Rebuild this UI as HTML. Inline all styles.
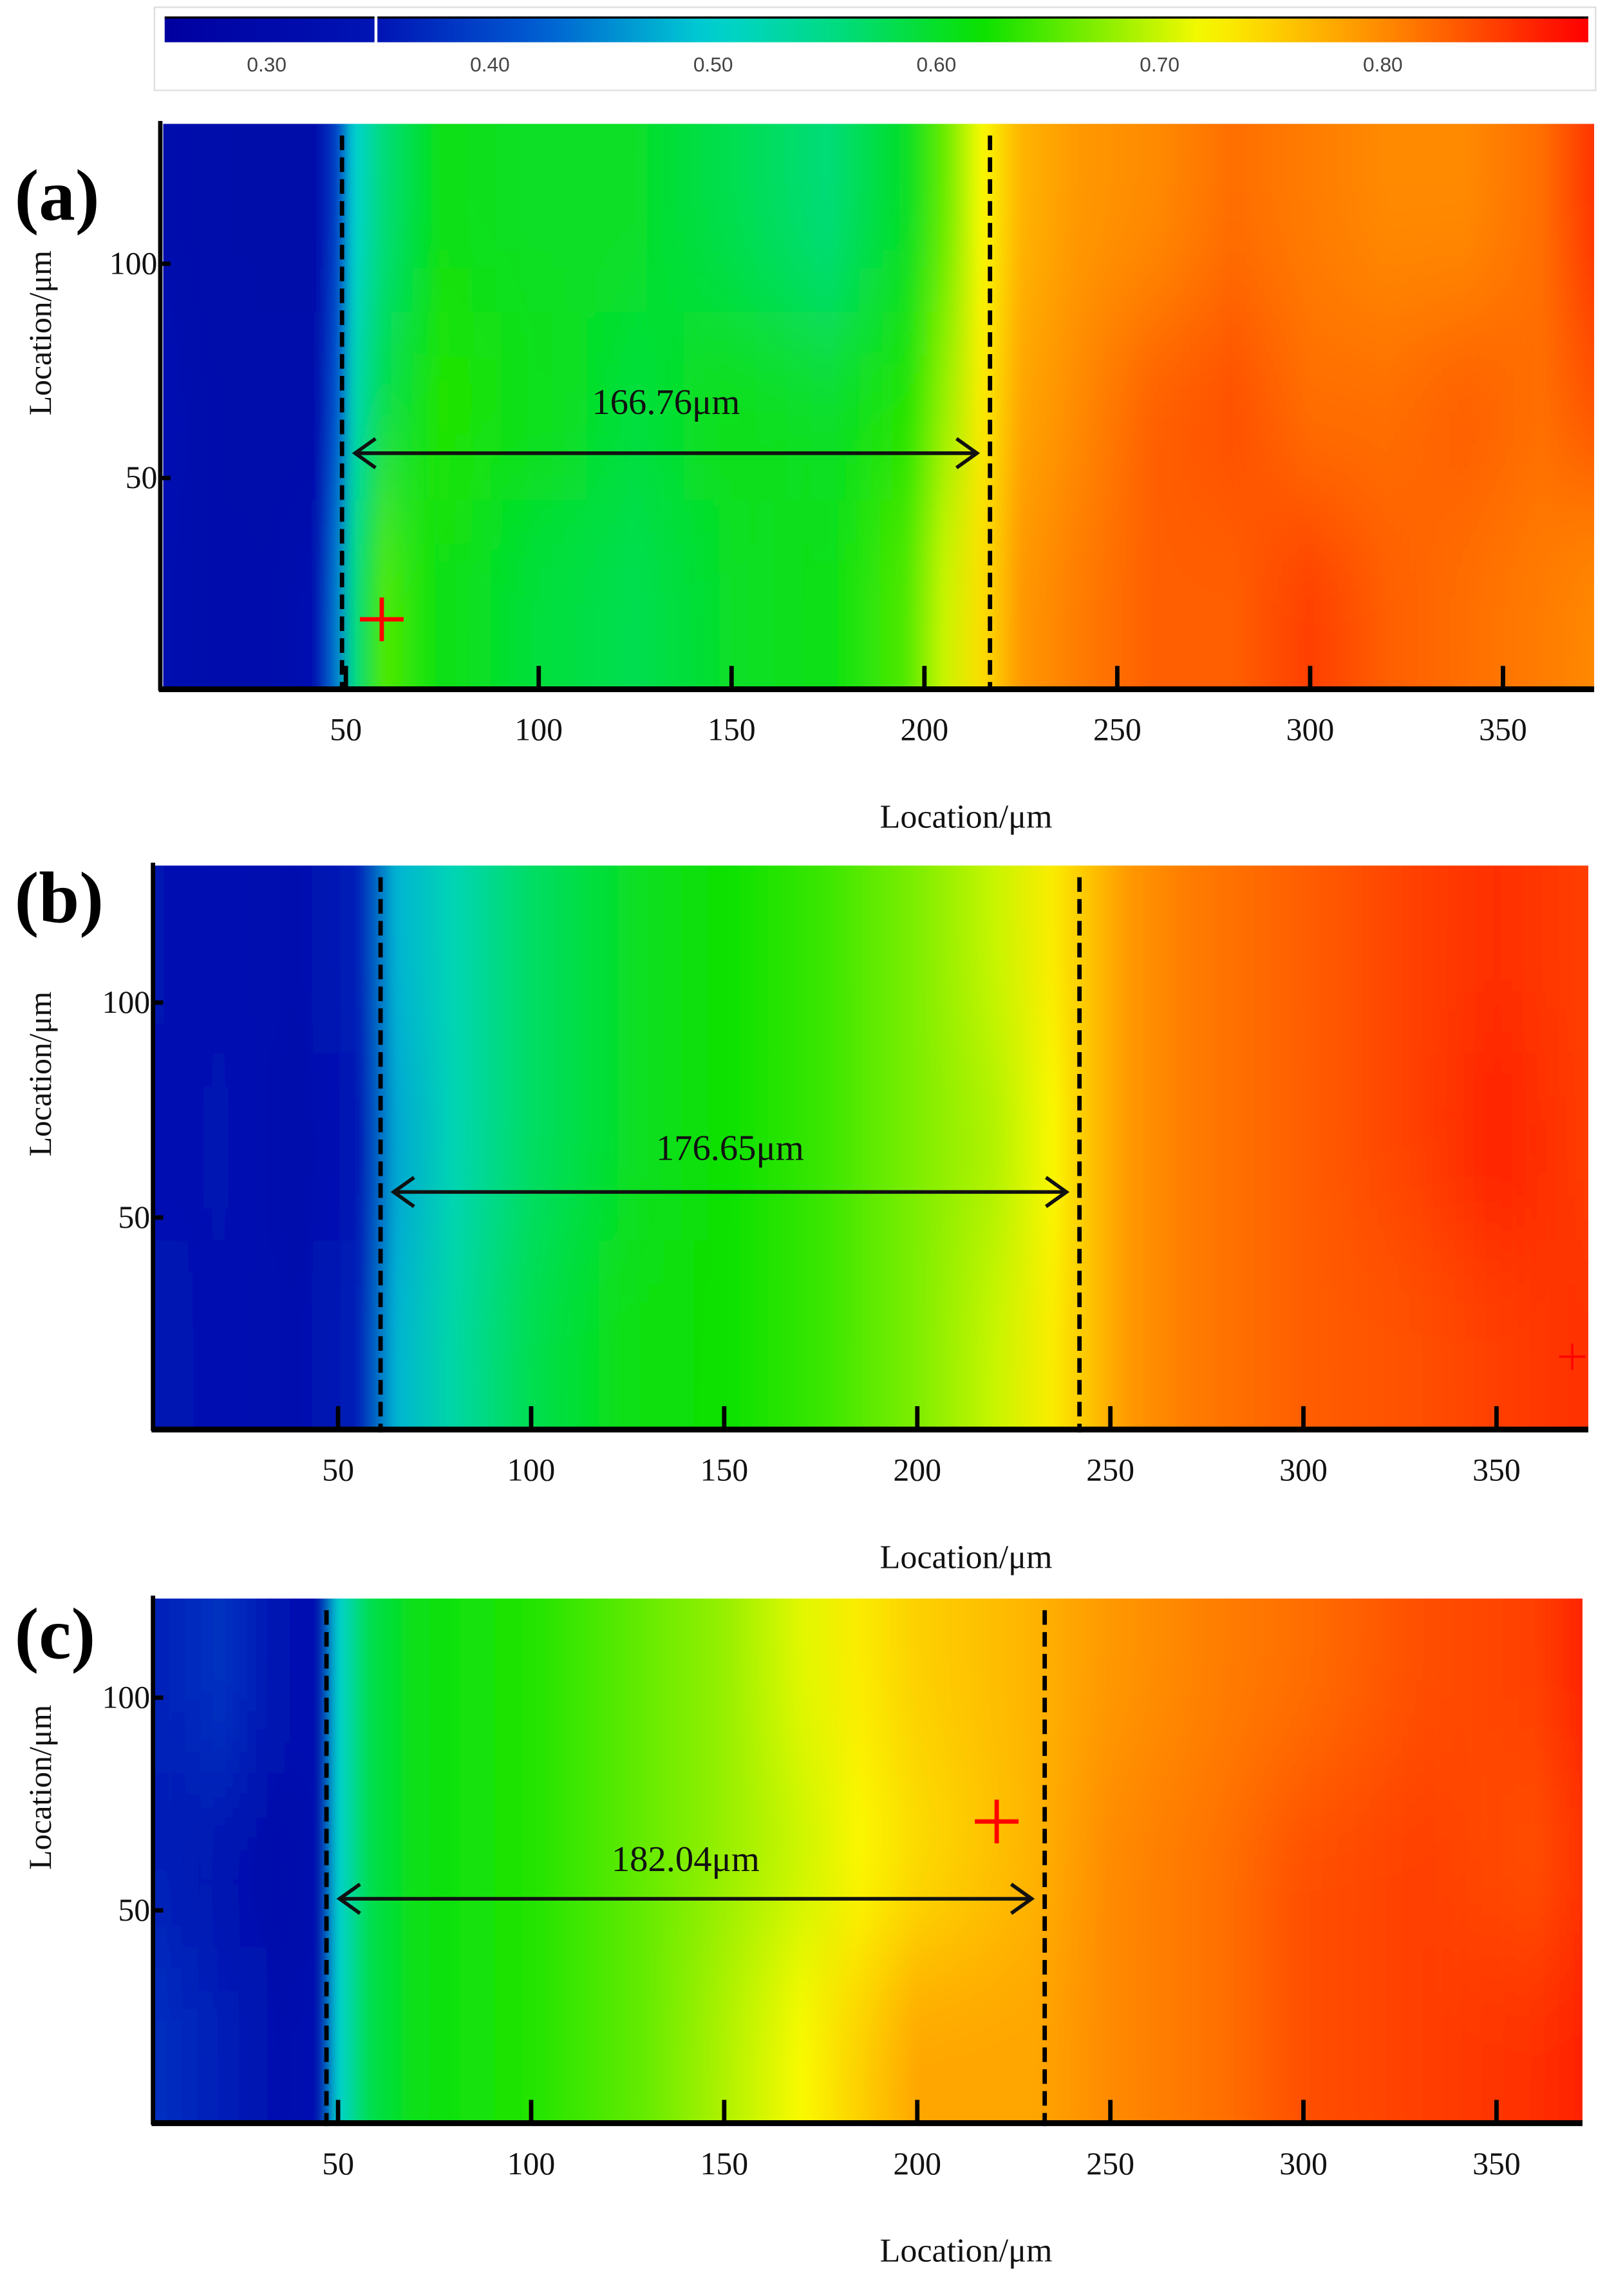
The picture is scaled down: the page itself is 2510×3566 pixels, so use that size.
<!DOCTYPE html>
<html><head><meta charset="utf-8"><style>
html,body{margin:0;padding:0;background:#fff}
svg{display:block}
.tick{font-family:"Liberation Serif",serif;font-size:22px;fill:#111}
.cb{font-family:"Liberation Sans",sans-serif;font-size:14px;fill:#444}
</style></head><body>
<svg id="fig" width="2510" height="3566" viewBox="0 0 1109 1575.6" preserveAspectRatio="none" xmlns="http://www.w3.org/2000/svg">
<defs>
<filter id="vblur" x="-5%" y="-50%" width="110%" height="200%"><feGaussianBlur stdDeviation="3 45"/></filter>
</defs>
</svg>
<script>
// ---- data ----
const cbTicks = [0.30,0.40,0.50,0.60,0.70,0.80];
const aXs  = [0,15,30,42,48,52,60,75,100,125,150,175,195,205,215,225,240,260,280,300,320,340,360,375];
const aTop = [0.32,0.30,0.29,0.29,0.40,0.50,0.56,0.61,0.60,0.60,0.58,0.56,0.60,0.66,0.72,0.77,0.79,0.80,0.82,0.81,0.80,0.80,0.82,0.86];
const aMid = [0.34,0.31,0.30,0.30,0.42,0.52,0.58,0.63,0.61,0.59,0.61,0.60,0.63,0.68,0.73,0.78,0.80,0.83,0.84,0.82,0.82,0.83,0.82,0.84];
const aBot = [0.33,0.31,0.31,0.33,0.45,0.55,0.65,0.61,0.59,0.58,0.60,0.61,0.65,0.70,0.74,0.79,0.81,0.83,0.83,0.85,0.83,0.82,0.81,0.80];
const bXs  = [0,20,40,55,65,80,100,125,150,175,200,220,235,245,255,270,300,330,350,375];
const bTop = [0.34,0.33,0.32,0.36,0.48,0.52,0.57,0.60,0.62,0.64,0.67,0.70,0.73,0.76,0.79,0.81,0.83,0.85,0.86,0.85];
const bMid = [0.33,0.34,0.31,0.35,0.47,0.52,0.57,0.60,0.62,0.64,0.67,0.69,0.72,0.76,0.79,0.81,0.83,0.85,0.87,0.85];
const bBot = [0.35,0.33,0.32,0.36,0.48,0.53,0.58,0.61,0.62,0.64,0.67,0.70,0.73,0.76,0.79,0.81,0.83,0.84,0.85,0.86];
const cXs  = [0,20,35,45,50,58,70,100,130,150,170,185,200,230,250,280,300,330,360,375];
const cTop = [0.36,0.38,0.34,0.33,0.50,0.58,0.61,0.63,0.66,0.68,0.71,0.73,0.75,0.77,0.79,0.81,0.82,0.84,0.85,0.87];
const cMid = [0.36,0.33,0.30,0.32,0.50,0.58,0.61,0.63,0.66,0.68,0.70,0.72,0.74,0.77,0.80,0.82,0.84,0.85,0.84,0.86];
const cBot = [0.38,0.36,0.32,0.33,0.50,0.58,0.61,0.63,0.66,0.69,0.72,0.75,0.78,0.78,0.80,0.82,0.84,0.85,0.86,0.87];
const xTicks = [50,100,150,200,250,300,350];
const yTicks = [50,100];
const widths = ["166.76μm","176.65μm","182.04μm"];
const bounds = [[49,217],[61,242],[47,233]];

// ---- colormap ----
const cmap=[[0.254,[0,0,160]],[0.35,[0,20,180]],[0.42,[0,90,210]],[0.50,[0,210,210]],[0.56,[0,220,120]],[0.62,[10,225,0]],[0.68,[150,240,0]],[0.72,[250,250,0]],[0.77,[255,180,0]],[0.82,[255,110,0]],[0.89,[255,0,0]]];
function col(v){
  if(v<=cmap[0][0])return `rgb(${cmap[0][1]})`;
  for(let i=1;i<cmap.length;i++){if(v<=cmap[i][0]){const a=cmap[i-1],b=cmap[i],t=(v-a[0])/(b[0]-a[0]);
    return 'rgb('+a[1].map((c,k)=>Math.round(c+(b[1][k]-c)*t)).join(',')+')';}}
  return `rgb(${cmap[cmap.length-1][1]})`;
}
const NS="http://www.w3.org/2000/svg";
const svg=document.getElementById('fig'), defs=svg.querySelector('defs');
function mk(tag,attrs,parent){const e=document.createElementNS(NS,tag);for(const k in attrs)e.setAttribute(k,attrs[k]);(parent||svg).appendChild(e);return e;}

// ---- colorbar ----
const cbG=mk('g',{});


mk('rect',{x:106,y:5,width:989,height:57,fill:'#fff',stroke:'#ddd','stroke-width':1},cbG);
const cbX=v=>183+(v-0.30)*1532;
const gcb=mk('linearGradient',{id:'gcb',x1:0,x2:1,y1:0,y2:0},defs);
for(let i=0;i<=40;i++){const v=0.254+(0.892-0.254)*i/40;mk('stop',{offset:(i/40),'stop-color':col(v)},gcb);}
mk('rect',{x:113,y:12,width:977,height:17,fill:'url(#gcb)'},cbG);
mk('line',{x1:113,x2:1090,y1:12,y2:12,stroke:'#000','stroke-width':1.5},cbG);
mk('line',{x1:258,x2:258,y1:11,y2:30,stroke:'#fff','stroke-width':2},cbG);
cbTicks.forEach(v=>{const t=mk('text',{x:cbX(v),y:49,'text-anchor':'middle',class:'cb'},cbG);t.textContent=v.toFixed(2);
  
  });

// ---- panels ----
const panels=[
 {name:'a',xs:aXs,rows:[aTop,aMid,aBot],L:112,R:1094,T:85,B:472,ax:110,x0:105,sx:2.647,y0:475,sy:2.94,lab:133,tit:560,arrY:311,labY:275,cross:[262,425,1]},
 {name:'b',xs:bXs,rows:[bTop,bMid,bBot],L:106,R:1090,T:594,B:980,ax:105,x0:99.5,sx:2.65,y0:983,sy:2.95,lab:615,tit:1068,arrY:818,labY:787,cross:[1079,931,0]},
 {name:'c',xs:cXs,rows:[cTop,cMid,cBot],L:106,R:1086,T:1097,B:1456,ax:105,x0:99.5,sx:2.65,y0:1457,sy:2.92,lab:1120,tit:1544,arrY:1303,labY:1275,cross:[684,1250,1]}
];
panels.forEach((p,pi)=>{
  const X=v=>p.x0+v*p.sx, Y=v=>p.y0-v*p.sy;
  const g=mk('g',{});
  
  
  const cid='clip'+p.name;
  const cp=mk('clipPath',{id:cid},defs);mk('rect',{x:p.L,y:p.T,width:p.R-p.L,height:p.B-p.T},cp);
  const hm=mk('g',{'clip-path':`url(#${cid})`},g);
  
  
  const inner=mk('g',{filter:'url(#vblur)'},hm);
  const H=p.B-p.T, xa=X(p.xs[0]), xb=X(p.xs[p.xs.length-1]);
  p.rows.forEach((row,ri)=>{
    const gid=`g${p.name}${ri}`;
    const lg=mk('linearGradient',{id:gid,gradientUnits:'userSpaceOnUse',x1:xa,x2:xb,y1:0,y2:0},defs);
    row.forEach((v,i)=>mk('stop',{offset:((X(p.xs[i])-xa)/(xb-xa)).toFixed(4),'stop-color':col(v)},lg));
    const y1=ri===0?p.T-120:p.T+H*ri/3, y2=ri===2?p.B+120:p.T+H*(ri+1)/3;
    const r=mk('rect',{x:p.L-60,y:y1,width:p.R-p.L+120,height:y2-y1,fill:`url(#${gid})`},inner);
    
    
  });
  // axes
  mk('line',{x1:p.ax,x2:p.ax,y1:p.T-2,y2:p.B+2,stroke:'#000','stroke-width':3},g);
  mk('line',{x1:p.ax-1,x2:p.R,y1:p.B+1,y2:p.B+1,stroke:'#000','stroke-width':4},g);
  xTicks.forEach(v=>{
    mk('line',{x1:X(v),x2:X(v),y1:p.B,y2:p.B-15,stroke:'#000','stroke-width':3},g);
    const t=mk('text',{x:X(v),y:p.B+36,'text-anchor':'middle',class:'tick'},g);t.textContent=v;
    
    
  });
  yTicks.forEach(v=>{
    mk('line',{x1:p.ax,x2:p.ax+7,y1:Y(v),y2:Y(v),stroke:'#000','stroke-width':3},g);
    const t=mk('text',{x:p.ax-2,y:Y(v)+7,'text-anchor':'end',class:'tick'},g);t.textContent=v;
    
    
  });
  // dashed boundaries
  bounds[pi].forEach(b=>{const l=mk('line',{x1:X(b),x2:X(b),y1:p.T+8,y2:p.B+3,stroke:'#000','stroke-width':3,'stroke-dasharray':'10 5'},g);
    
    });
  // arrow
  const ax1=X(bounds[pi][0])+9, ax2=X(bounds[pi][1])-9, ay=p.arrY;
  const ar=mk('path',{d:`M${ax1},${ay}H${ax2}M${ax1+14},${ay-10}L${ax1},${ay}L${ax1+14},${ay+10}M${ax2-14},${ay-10}L${ax2},${ay}L${ax2-14},${ay+10}`,stroke:'#111','stroke-width':2.5,fill:'none'},g);
  
  
  const wl=mk('text',{x:(ax1+ax2)/2,y:p.labY+9,'text-anchor':'middle',class:'tick'},g);
  wl.setAttribute('style','font-size:25px');
  wl.textContent=widths[pi];
  
  
  // cross
  const [cx,cy,big]=p.cross, s=big?15:9;
  const cr=mk('path',{d:`M${cx-s},${cy}H${cx+s}M${cx},${cy-s}V${cy+s}`,stroke:'#f00','stroke-width':big?3:1.5},g);
  
  
  // panel label
  const pl=mk('text',{x:10,y:p.lab+18,style:'font-family:"Liberation Serif",serif;font-size:50px;font-weight:bold',fill:'#000'},g);
  pl.textContent='('+p.name+')';
  
  
  // axis titles
  const yt=mk('text',{x:0,y:0,transform:`translate(35,${(p.T+p.B)/2-50}) rotate(-90)`,'text-anchor':'middle',style:'font-family:"Liberation Serif",serif;font-size:22px',fill:'#111'},g);
  yt.textContent='Location/μm';
  
  
  const xt=mk('text',{x:663,y:p.tit+8,'text-anchor':'middle',style:'font-family:"Liberation Serif",serif;font-size:23px',fill:'#111'},g);
  xt.textContent='Location/μm';
  
  
});
</script>
</body></html>
